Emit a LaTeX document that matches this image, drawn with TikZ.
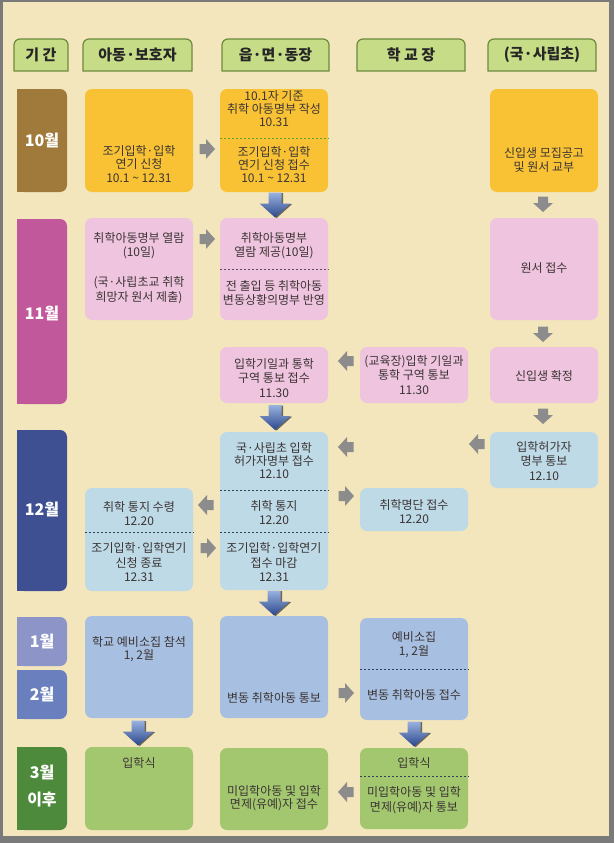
\documentclass[tikz,border=0pt]{standalone}
\usepackage{fontspec}
\setmainfont{Noto Sans CJK KR}
\definecolor{bgc}{HTML}{F3E6BC}
\definecolor{framec}{HTML}{7A7A7A}
\definecolor{tabc}{HTML}{C7DC87}
\definecolor{tabline}{HTML}{6C8A3C}
\definecolor{yelc}{HTML}{F8C234}
\definecolor{pinkc}{HTML}{EFC4DE}
\definecolor{lbluec}{HTML}{BEDAE7}
\definecolor{mbluec}{HTML}{A7BFE0}
\definecolor{greenc}{HTML}{A3C76F}
\definecolor{moct}{HTML}{A07A3A}
\definecolor{mnov}{HTML}{C1589B}
\definecolor{mdec}{HTML}{3E5091}
\definecolor{mjan}{HTML}{8D94C8}
\definecolor{mfeb}{HTML}{6A80BE}
\definecolor{mmar}{HTML}{4E8A3C}
\definecolor{arrc}{HTML}{8C8C8C}
\definecolor{arrtop}{HTML}{9AB2E0}
\definecolor{arrbot}{HTML}{2A478C}
\definecolor{txtc}{HTML}{3B3434}
\definecolor{dashg}{HTML}{5FA032}
\definecolor{dashp}{HTML}{5B4A6B}
\definecolor{dashb}{HTML}{33405A}
\begin{document}
\begin{tikzpicture}[x=1pt,y=-1pt,
    box/.style={rounded corners=7pt, inner sep=0pt, minimum width=108pt},
    txt/.style={align=center, inner sep=0pt, text=txtc, font=\fontsize{12}{14.5}\selectfont},
    txtt/.style={txt, font=\fontsize{12}{13.2}\selectfont},
    tab/.style={fill=tabc, draw=tabline, line width=1.2pt},
    htxt/.style={inner sep=0pt, text=black!85, font=\bfseries\fontsize{15}{17}\selectfont},
    mbox/.style={rounded corners=7pt, inner sep=0pt, minimum width=50pt},
    mtxt/.style={align=center, inner sep=0pt, text=white, font=\bfseries\fontsize{16}{27}\selectfont},
    divline/.style={line width=1pt, dash pattern=on 2.5pt off 1.5pt},
    garrow/.pic={\fill[arrc] (-7.5,-5) -- (-1,-5) -- (-1,-10) -- (8,0) -- (-1,10) -- (-1,5) -- (-7.5,5) -- cycle;},
    barrow/.pic={
        \fill[black, opacity=0.55, shift={(1.6,0.6)}] (-6.5,-12.5) -- (6.5,-12.5) -- (6.5,-1.5) -- (15.5,-1.5) -- (0,12.5) -- (-15.5,-1.5) -- (-6.5,-1.5) -- cycle;
        \shade[top color=arrtop, bottom color=arrbot] (-6.5,-12.5) -- (6.5,-12.5) -- (6.5,-1.5) -- (15.5,-1.5) -- (0,12.5) -- (-15.5,-1.5) -- (-6.5,-1.5) -- cycle;}]
    \useasboundingbox (0,0) rectangle (614,843);
    \fill[framec] (0,0) rectangle (614,843);
    \fill[bgc] (3,2) rectangle (609,836);

    % header
    \filldraw[tab] (14,71) -- (14,45) arc[start angle=180,end angle=90,radius=6pt] -- (62,39) arc[start angle=90,end angle=0,radius=6pt] -- (68,71) -- cycle;
    \filldraw[tab] (83,71) -- (83,45) arc[start angle=180,end angle=90,radius=6pt] -- (186,39) arc[start angle=90,end angle=0,radius=6pt] -- (192,71) -- cycle;
    \filldraw[tab] (222,71) -- (222,45) arc[start angle=180,end angle=90,radius=6pt] -- (323,39) arc[start angle=90,end angle=0,radius=6pt] -- (329,71) -- cycle;
    \filldraw[tab] (357,71) -- (357,45) arc[start angle=180,end angle=90,radius=6pt] -- (459,39) arc[start angle=90,end angle=0,radius=6pt] -- (465,71) -- cycle;
    \filldraw[tab] (488,71) -- (488,45) arc[start angle=180,end angle=90,radius=6pt] -- (590,39) arc[start angle=90,end angle=0,radius=6pt] -- (596,71) -- cycle;
    \node[htxt] (h1) at (41,55) {기 간};
    \node[htxt] (h2) at (137.5,55) {아동·보호자};
    \node[htxt] (h3) at (275.5,55) {읍·면·동장};
    \node[htxt] (h4) at (411,55) {학 교 장};
    \node[htxt] (h5) at (542,55) {(국·사립초)};

    % months
    \node[mbox, fill=moct, minimum height=103pt] (m10) at (42,140.5) {};
    \fill[moct] (m10.north west) rectangle (m10.south);
    \node[mtxt] (m10t) at (m10) {10월};
    \node[mbox, fill=mnov, minimum height=185pt] (m11) at (42,311.5) {};
    \fill[mnov] (m11.north west) rectangle (m11.south);
    \node[mtxt] (m11t) at (42,313) {11월};
    \node[mbox, fill=mdec, minimum height=161pt] (m12) at (42,510.5) {};
    \fill[mdec] (m12.north west) rectangle (m12.south);
    \node[mtxt] (m12t) at (42,509) {12월};
    \node[mbox, fill=mjan, minimum height=49pt] (m1) at (42,641.5) {};
    \fill[mjan] (m1.north west) rectangle (m1.south);
    \node[mtxt] (m1t) at (m1) {1월};
    \node[mbox, fill=mfeb, minimum height=49pt] (m2) at (42,694.5) {};
    \fill[mfeb] (m2.north west) rectangle (m2.south);
    \node[mtxt] (m2t) at (m2) {2월};
    \node[mbox, fill=mmar, minimum height=83pt] (m3) at (42,788.5) {};
    \fill[mmar] (m3.north west) rectangle (m3.south);
    \node[mtxt] (m3t) at (42,786) {3월\\이후};

    % boxes
    \node[box, fill=yelc, minimum height=103pt] (c1a) at (139,140.5) {};
    \node[box, fill=pinkc, minimum height=102pt] (c1b) at (139,269) {};
    \node[box, fill=lbluec, minimum height=103pt] (c1c) at (139,539.5) {};
    \node[box, fill=mbluec, minimum height=102pt] (c1d) at (139,667) {};
    \node[box, fill=greenc, minimum height=83pt] (c1e) at (139,788.5) {};
    \node[box, fill=yelc, minimum height=103pt] (c2a) at (274,140.5) {};
    \node[box, fill=pinkc, minimum height=102pt] (c2b) at (274,269) {};
    \node[box, fill=pinkc, minimum height=56pt] (c2c) at (274,375) {};
    \node[box, fill=lbluec, minimum height=158pt] (c2d) at (274,511) {};
    \node[box, fill=mbluec, minimum height=102pt] (c2e) at (274,667) {};
    \node[box, fill=greenc, minimum height=82pt] (c2f) at (274,789) {};
    \node[box, fill=pinkc, minimum height=56pt] (c3a) at (414,375) {};
    \node[box, fill=lbluec, minimum height=43pt] (c3b) at (414,509.5) {};
    \node[box, fill=mbluec, minimum height=102pt] (c3c) at (414,669) {};
    \node[box, fill=greenc, minimum height=81pt] (c3d) at (414,788.5) {};
    \node[box, fill=yelc, minimum height=103pt] (c4a) at (544,140.5) {};
    \node[box, fill=pinkc, minimum height=102pt] (c4b) at (544,269) {};
    \node[box, fill=pinkc, minimum height=56pt] (c4c) at (544,375) {};
    \node[box, fill=lbluec, minimum height=56pt] (c4d) at (544,460) {};

    % dividers
    \draw[divline, dashg] (c2a.west |- 0,138) -- (c2a.east |- 0,138);
    \draw[divline, dashp] (c2b.west |- 0,269) -- (c2b.east |- 0,269);
    \draw[divline, dashb] (c1c.west |- 0,532) -- (c1c.east |- 0,532);
    \draw[divline, dashb] (c2d.west |- 0,490) -- (c2d.east |- 0,490);
    \draw[divline, dashb] (c2d.west |- 0,532) -- (c2d.east |- 0,532);
    \draw[divline, dashb] (c3c.west |- 0,669) -- (c3c.east |- 0,669);
    \draw[divline, dashb] (c3d.west |- 0,776) -- (c3d.east |- 0,776);

    % texts
    \node[txtt] (t1a) at (139,164) {조기입학·입학\\연기 신청\\10.1 \textasciitilde{} 12.31};
    \node[txt] (t1b) at (139,245.5) {취학아동명부 열람\\(10일)};
    \node[txt] (t1c) at (139,290) {(국·사립초교 취학\\희망자 원서 제출)};
    \node[txtt] (t1d) at (139,513.5) {취학 통지 수령\\12.20};
    \node[txt] (t1e) at (139,562.5) {조기입학·입학연기\\신청 종료\\12.31};
    \node[txtt] (t1f) at (139,649) {학교 예비소집 참석\\1, 2월};
    \node[txt] (t1g) at (139,763) {입학식};
    \node[txtt] (t2a) at (274,108.5) {10.1자 기준\\취학 아동명부 작성\\10.31};
    \node[txtt] (t2b) at (274,164.5) {조기입학·입학\\연기 신청 접수\\10.1 \textasciitilde{} 12.31};
    \node[txt] (t2c) at (274,245.5) {취학아동명부\\열람 제공(10일)};
    \node[txt] (t2d) at (274,293) {전 출입 등 취학아동\\변동상황의명부 반영};
    \node[txt] (t2e) at (274,378) {입학기일과 통학\\구역 통보 접수\\11.30};
    \node[txtt] (t2f) at (274,460.5) {국·사립초 입학\\허가자명부 접수\\12.10};
    \node[txtt] (t2g) at (274,512.5) {취학 통지\\12.20};
    \node[txt] (t2h) at (274,562.5) {조기입학·입학연기\\접수 마감\\12.31};
    \node[txt] (t2i) at (274,698) {변동 취학아동 통보};
    \node[txtt] (t2j) at (274,798) {미입학아동 및 입학\\면제(유예)자 접수};
    \node[txt] (t3a) at (414,375) {(교육장)입학 기일과\\통학 구역 통보\\11.30};
    \node[txtt] (t3b) at (414,511.5) {취학명단 접수\\12.20};
    \node[txt] (t3c) at (414,644.5) {예비소집\\1, 2월};
    \node[txt] (t3d) at (414,695) {변동 취학아동 접수};
    \node[txt] (t3e) at (414,763) {입학식};
    \node[txt] (t3f) at (414,800) {미입학아동 및 입학\\면제(유예)자 통보};
    \node[txt] (t4a) at (544,160) {신입생 모집공고\\및 원서 교부};
    \node[txt] (t4b) at (544,268) {원서 접수};
    \node[txt] (t4c) at (544,376) {신입생 확정};
    \node[txt] (t4d) at (544,461) {입학허가자\\명부 통보\\12.10};

    % gray arrows
    \pic (g1) at (207,149) {garrow};
    \pic[rotate=-90] (g2) at (543,204) {garrow};
    \pic (g3) at (207,239) {garrow};
    \pic[rotate=-90] (g4) at (543,334) {garrow};
    \pic[rotate=180] (g5) at (346,361) {garrow};
    \pic[rotate=-90] (g6) at (543,416) {garrow};
    \pic[rotate=180] (g7) at (477,444) {garrow};
    \pic[rotate=180] (g8) at (346,447) {garrow};
    \pic[rotate=180] (g9) at (206,505) {garrow};
    \pic (g10) at (346,496) {garrow};
    \pic (g11) at (208,548) {garrow};
    \pic (g12) at (346,693) {garrow};
    \pic[rotate=180] (g13) at (346,792) {garrow};

    % blue arrows
    \pic (b1) at (275,205) {barrow};
    \pic (b2) at (275,417.5) {barrow};
    \pic (b3) at (274,603) {barrow};
    \pic (b4) at (138,733) {barrow};
    \pic (b5) at (414,734) {barrow};
\end{tikzpicture}
\end{document}
